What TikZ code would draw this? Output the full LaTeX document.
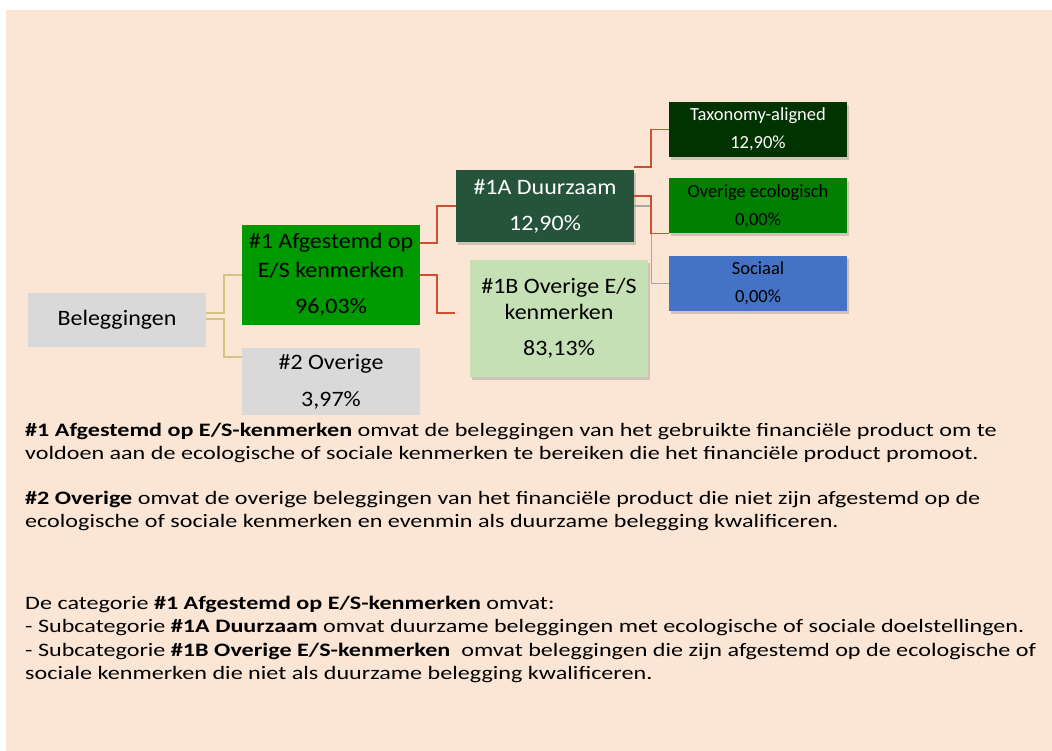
\documentclass[tikz,border=0pt]{standalone}
\usepackage{fontspec}
\setmainfont{Carlito}
\newfontfamily\boxfont[FakeStretch=1.09]{Carlito}
\newfontfamily\notefont[FakeStretch=1.27]{Carlito}
\usetikzlibrary{positioning,shadows}

\definecolor{bgbeige}{HTML}{FBE6D6}
\definecolor{boxgray}{HTML}{D9D9D9}
\definecolor{afggreen}{HTML}{009900}
\definecolor{dzgreen}{HTML}{26543A}
\definecolor{lightgreen}{HTML}{C5E0B4}
\definecolor{taxgreen}{HTML}{003300}
\definecolor{ecogreen}{HTML}{008000}
\definecolor{socblue}{HTML}{4472C4}
\definecolor{linkkhaki}{HTML}{D5C47F}
\definecolor{linkred}{HTML}{CC5030}
\definecolor{linkgray}{HTML}{A6A6A6}

\begin{document}
\begin{tikzpicture}[
    x=1pt, y=-1pt,
    box/.style={rectangle, minimum width=178pt, inner sep=0pt, align=center, font=\boxfont\fontsize{22}{27}\selectfont},
    smallbox/.style={rectangle, minimum width=178pt, minimum height=55pt, inner sep=0pt, align=center, font=\fontsize{18.5}{28}\selectfont},
    shade/.style={drop shadow={shadow xshift=2pt, shadow yshift=-3pt, opacity=0.35}},
    link/.style={line width=1.6pt},
    note/.style={anchor=base west, align=left, inner sep=0pt, font=\notefont\fontsize{19}{23.5}\selectfont}
]

% Background
\fill[bgbeige] (6,10) rectangle (1052,751);
\useasboundingbox (0,0) rectangle (1052,751);

% Investments
\node[box, fill=boxgray, minimum height=54pt] (beleggingen) at (117,320) {Beleggingen};

% Categories
\node[box, fill=afggreen, minimum height=100pt] (afgestemd) at (331,275) {\#1 Afgestemd op\\[2pt]E/S kenmerken\\[9pt]96,03\%};
\node[box, fill=boxgray, minimum height=67pt, below=23pt of afgestemd] (overige) {\#2 Overige\\[10pt]3,97\%};

% Subcategories
\node[box, fill=dzgreen, text=white, minimum height=72pt, shade] (duurzaam) at (545,206) {\#1A Duurzaam\\[9pt]12,90\%};
\node[box, fill=lightgreen, minimum height=117pt, shade] (overige_es) at (559,318.5) {\#1B Overige E/S\\[-1pt]kenmerken\\[9pt]83,13\%};

% Split of #1A
\node[smallbox, fill=taxgreen, text=white, shade] (taxonomy) at (758,129.5) {Taxonomy-aligned\\12,90\%};
\node[smallbox, fill=ecogreen, shade, below=21pt of taxonomy] (overige_eco) {Overige ecologisch\\0,00\%};
\node[smallbox, fill=socblue, shade, below=22pt of overige_eco] (sociaal) {Sociaal\\0,00\%};

% Investments to categories
\draw[link, linkkhaki] ([yshift=7pt]beleggingen.east) -- ++(18,0) |- (afgestemd.west);
\draw[link, linkkhaki] ([yshift=1pt]beleggingen.east) -- ++(18,0) |- ([yshift=-9pt]overige.north west);

% Category to subcategories
\draw[link, linkred] ([yshift=-18pt]afgestemd.north east) -- ++(17,0) |- (duurzaam.west);
\draw[link, linkred] (afgestemd.east) -- ++(17,0) |- ([xshift=-15pt,yshift=5.5pt]overige_es.west);

% Subcategory to split
\draw[link, linkgray, line width=1.2pt] (duurzaam.east) -- ++(17,0) |- (sociaal.west);
\draw[link, linkred] ([yshift=3pt]duurzaam.north east) -- ++(17,0) |- (taxonomy.west);
\draw[link, linkred] ([yshift=10pt]duurzaam.east) -- ++(17,0) |- (overige_eco.south west);

% Explanation
\node[note] (uitleg_afgestemd) at (25,459.5) {\textbf{\#1 Afgestemd op E/S-kenmerken} omvat de beleggingen van het gebruikte financiële product om te\\voldoen aan de ecologische of sociale kenmerken te bereiken die het financiële product promoot.};
\node[note] (uitleg_overige) at (25,527.5) {\textbf{\#2 Overige} omvat de overige beleggingen van het financiële product die niet zijn afgestemd op de\\ecologische of sociale kenmerken en evenmin als duurzame belegging kwalificeren.};
\node[note] (uitleg_categorie) at (25,679.5) {De categorie \textbf{\#1 Afgestemd op E/S-kenmerken} omvat:\\- Subcategorie \textbf{\#1A Duurzaam} omvat duurzame beleggingen met ecologische of sociale doelstellingen.\\- Subcategorie \textbf{\#1B Overige E/S-kenmerken}~ omvat beleggingen die zijn afgestemd op de ecologische of\\sociale kenmerken die niet als duurzame belegging kwalificeren.};

\end{tikzpicture}
\end{document}
